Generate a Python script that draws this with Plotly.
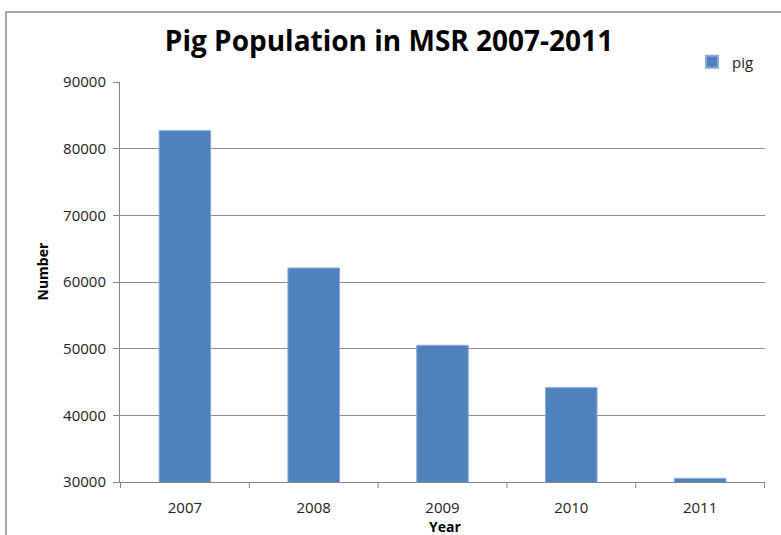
import plotly.graph_objects as go

years = ["2007", "2008", "2009", "2010", "2011"]
pig = [82700, 62100, 50500, 44150, 30550]
y_ticks = [30000, 40000, 50000, 60000, 70000, 80000, 90000]

L, R, T, B = 120, 16, 82, 53
W, H = 781, 535
pw, ph = W - L - R, H - T - B


def px_x(x):
    return (x - L) / pw


def px_y(y):
    return (H - B - y) / ph


fig = go.Figure()
fig.add_trace(go.Bar(
    x=years, y=pig, name="pig", width=0.4,
    marker=dict(color="#4F81BD", line=dict(color="#8EAADB", width=1)),
    showlegend=True,
))

fig.update_layout(
    width=W, height=H,
    margin=dict(l=L, r=R, t=T, b=B, autoexpand=False),
    paper_bgcolor="white", plot_bgcolor="white",
    title=dict(text="<b>Pig Population in MSR 2007-2011</b>",
               x=389 / W, xanchor="center", y=1 - 41 / H, yanchor="middle",
               font=dict(family="Open Sans", size=28, color="black")),
    legend=dict(x=px_x(759), xanchor="right", y=px_y(62), yanchor="middle",
                font=dict(family="Open Sans", size=15, color="#222"),
                itemwidth=30, itemsizing="constant",
                bgcolor="rgba(0,0,0,0)", traceorder="normal"),
    showlegend=True,
    xaxis=dict(
        type="category", showgrid=False, showline=True, linecolor="#868686",
        linewidth=1, ticks="", tickfont=dict(family="Open Sans", size=15, color="#222"),
        automargin=False, ticklabelstandoff=12,
    ),
    yaxis=dict(
        range=[30000, 90000], tickvals=y_ticks, ticktext=[str(v) for v in y_ticks],
        showgrid=True, gridcolor="#8c8c8c",
        gridwidth=1, showline=True, linecolor="#868686", linewidth=1,
        ticks="outside", ticklen=6, tickcolor="#868686",
        tickfont=dict(family="Open Sans", size=15, color="#222"),
        ticklabelstandoff=4, automargin=False,
        zeroline=False,
    ),
)

# axis titles
fig.add_annotation(text="<b>Year</b>", xref="paper", yref="paper",
                   x=px_x(444.5), y=px_y(526), xanchor="center", yanchor="middle",
                   showarrow=False, font=dict(family="Open Sans", size=14, color="black"))
fig.add_annotation(text="<b>Number</b>", xref="paper", yref="paper",
                   x=px_x(42), y=px_y(271.5), xanchor="center", yanchor="middle",
                   textangle=-90, showarrow=False,
                   font=dict(family="Open Sans", size=14, color="black"))

# category-boundary ticks on x axis
for i in range(len(years) + 1):
    fig.add_shape(type="line", xref="x", yref="paper",
                  x0=i - 0.5, x1=i - 0.5, y0=0, y1=-6 / ph,
                  line=dict(color="#868686", width=1))

# chart area border (left and top visible)
fig.add_shape(type="rect", xref="paper", yref="paper",
              x0=px_x(6), x1=2, y0=-1, y1=px_y(12),
              line=dict(color="#8a8a8a", width=1.5), layer="below")

fig.write_html("out.html")
